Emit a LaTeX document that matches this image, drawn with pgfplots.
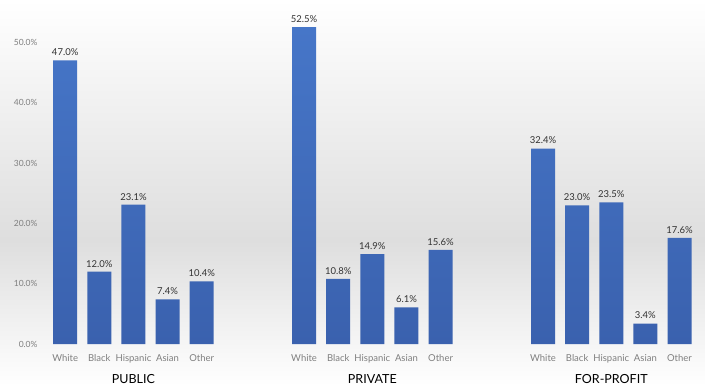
\documentclass[border=0pt]{standalone}
\usepackage{fontspec}
\setmainfont{Lato}
\usepackage{pgfplots}
\pgfplotsset{compat=1.18}
\pgfdeclarelayer{background}
\pgfsetlayers{background,main}
\definecolor{bartop}{HTML}{4676C8}
\definecolor{barbot}{HTML}{3A61AE}
\definecolor{tickgray}{HTML}{7F7F7F}
\definecolor{bandgray}{HTML}{DEDEDE}
\begin{document}
\begin{tikzpicture}
\begin{axis}[
  name=ax,
  scale only axis,
  width=657pt, height=344pt,
  xmin=-0.65, xmax=18.6,
  ymin=0, ymax=57,
  clip=false,
  axis line style={draw=none},
  major tick length=0pt,
  xtick={0,1,2,3,4,7,8,9,10,11,14,15,16,17,18},
  xticklabels={White,Black,Hispanic,Asian,Other,White,Black,Hispanic,Asian,Other,White,Black,Hispanic,Asian,Other},
  xticklabel style={font=\fontsize{9.5}{10}\selectfont, text=tickgray, yshift=-7pt},
  ytick={0,10,20,30,40,50},
  yticklabel={\pgfmathprintnumber[fixed,fixed zerofill,precision=1]{\tick}\%},
  yticklabel style={font=\fontsize{8.5}{10}\selectfont, text=tickgray, xshift=-2pt},
  /pgf/number format/assume math mode=true,
  nodes near coords={\pgfmathprintnumber[fixed,fixed zerofill,precision=1,assume math mode=true]{\pgfplotspointmeta}\%},
  every node near coord/.append style={font=\fontsize{9.5}{10}\selectfont, text=black!80, yshift=1pt},
]
\addplot[ybar, bar width=24pt, draw=none, top color=bartop, bottom color=barbot]
  coordinates {(0,47.0) (1,12.0) (2,23.1) (3,7.4) (4,10.4)
               (7,52.5) (8,10.8) (9,14.9) (10,6.1) (11,15.6)
               (14,32.4) (15,23.0) (16,23.5) (17,3.4) (18,17.6)};
\node[font=\fontsize{12.5}{14}\selectfont, text=black] at (axis cs:2,0) [yshift=-35pt] {PUBLIC};
\node[font=\fontsize{12.5}{14}\selectfont, text=black] at (axis cs:9,0) [yshift=-35pt] {PRIVATE};
\node[font=\fontsize{12.5}{14}\selectfont, text=black] at (axis cs:16,0) [yshift=-35pt] {FOR-PROFIT};
\end{axis}
\begin{pgfonlayer}{background}
\shade[top color=white, bottom color=bandgray] ([xshift=-43pt]ax.north west) rectangle ([xshift=5pt,yshift=-240pt]ax.north east);
\shade[top color=bandgray, bottom color=white] ([xshift=-43pt,yshift=-240pt]ax.north west) rectangle ([xshift=5pt,yshift=-42pt]ax.south east);
\end{pgfonlayer}
\end{tikzpicture}
\end{document}
